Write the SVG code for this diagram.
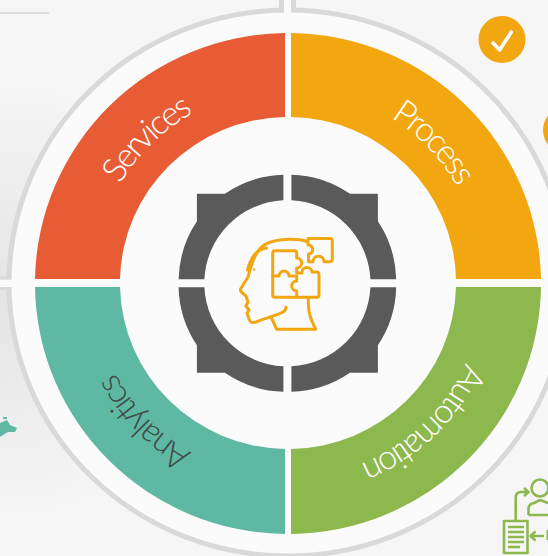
<svg xmlns="http://www.w3.org/2000/svg" width="548" height="556" viewBox="0 0 548 556">
<style>
.lbl{font-family:"Lato","Liberation Sans",sans-serif;font-weight:300;font-size:34px;letter-spacing:-2.4px;}
.ring{fill:none;stroke:#d9d9d9;stroke-width:5;}
.ic{fill:none;stroke:#f2a60f;stroke-width:3;stroke-linecap:round;stroke-linejoin:round;}
.gi{fill:none;stroke:#8db84e;stroke-width:2.6;stroke-linejoin:round;}
</style>
<defs>
<radialGradient id="bg" gradientUnits="userSpaceOnUse" cx="0" cy="300" r="220">
<stop offset="0" stop-color="#e4e4e4"/><stop offset="1" stop-color="#f6f6f6"/>
</radialGradient>
<path id="tp" d="M94,280.5 A194,192 0 0 1 482,280.5 L482,286 A194,192 0 0 1 94,286 Z"/>
<path id="gq" d="M-4,-108.5 A109,109 0 0 0 -62.5,-89.5 H-90.5 V-62 A109,109 0 0 0 -108.8,-4 H-83 A83,83 0 0 1 -4,-83 Z" fill="#5a5a5a"/>
</defs>
<rect width="548" height="556" fill="url(#bg)"/>
<rect x="0" y="12" width="49" height="2" fill="#dcdcdc"/>
<polygon points="0,423 7,420 10,425 17,428 15,432 8,432 3,435 0,437" fill="#5eb8a4"/>
<polygon points="3,417 7,417 7,419 3,419" fill="#5eb8a4"/>
<g id="rings">
<ellipse cx="288" cy="283" rx="277" ry="271" fill="#fbfbfb"/>
<ellipse class="ring" cx="288" cy="283" rx="279" ry="273"/>
<rect x="284" y="0" width="7" height="16" fill="#fbfbfb"/>
<rect x="0" y="279.5" width="14" height="7.5" fill="#fbfbfb"/>
<rect x="279" y="0" width="5" height="11" fill="#d9d9d9"/>
<rect x="291" y="0" width="5" height="11" fill="#d9d9d9"/>
<rect x="0" y="276.5" width="11" height="3" fill="#d9d9d9"/>
<rect x="0" y="287" width="11" height="3" fill="#d9d9d9"/>
</g>
<g id="segment-services"><path d="M285,33 A253,250.5 0 0 0 35,279 H120 A168,166 0 0 1 285,117 Z" fill="#e75c35"/><text class="lbl" fill="#fff"><textPath href="#tp" startOffset="12.4%" text-anchor="middle">Services</textPath></text></g>
<g id="segment-process"><path d="M291,33 A253,250.5 0 0 1 541,279 H456 A168,166 0 0 0 291,117 Z" fill="#f2a60f"/><text class="lbl" fill="#fff"><textPath href="#tp" startOffset="37.5%" text-anchor="middle">Process</textPath></text></g>
<g id="segment-automation"><path d="M291,534 A253,250.5 0 0 0 541,287 H456 A168,166 0 0 1 291,449 Z" fill="#8db84e"/><text class="lbl" fill="#fff"><textPath href="#tp" startOffset="62.5%" text-anchor="middle">Automation</textPath></text></g>
<g id="segment-analytics"><path d="M285,534 A253,250.5 0 0 1 35,287 H120 A168,166 0 0 0 285,449 Z" fill="#5eb8a4"/><text class="lbl" fill="#3f4a48"><textPath href="#tp" startOffset="87.5%" text-anchor="middle">Analytics</textPath></text></g>
<g id="hub">
<use href="#gq" transform="translate(287.4,283.3)"/>
<use href="#gq" transform="translate(287.4,283.3) scale(-1,1)"/>
<use href="#gq" transform="translate(287.4,283.3) scale(1,-1)"/>
<use href="#gq" transform="translate(287.4,283.3) scale(-1,-1)"/>
</g>
<g id="head-icon" class="ic">
<path d="M307,241.5 C297,238 280,238.5 268,243 C256,248 252,262 248,277 L240.5,289 C240,291 241,292 246,296 L248,302 L246,306 L249,310 L247,313 L249,319 C250,323 253,323 256,322 C266,318 278,315 283,312 C285,311 286,309 286,307"/>
<path d="M247.5,270 C250,261 254,250 266.5,248"/>
<path d="M271.5,318 L276.7,329.3 H315.7 C310,318 308,312 308.3,298"/>
<path d="M275,250.7 H294.5 Q296.7,250.7 296.7,253 V258 A5,5 0 0 1 296.7,268 V273 H302 A5,5 0 0 1 312,272 H317 Q319,272.5 319,275 V295 Q319,297.3 317,297.3 H275 Q272.7,297.3 272.7,295 V253 Q272.7,250.7 275,250.7 Z"/>
<path d="M272.7,276 H279 A5,5 0 0 1 289,276 H296.7 V281 A5,5 0 0 0 296.7,291 V297"/>
<path d="M308,238.5 H330 Q332.3,238.5 332.3,241 V259.5 Q332.3,261.7 330,261.7 H324 A5.5,5.5 0 0 0 313,261.7 H308.5 V254 A4.5,4.5 0 0 0 308,245 Z"/>
</g>
<circle cx="254" cy="269.5" r="1.2" fill="#f2a60f"/>
<g id="check"><circle cx="502" cy="39.5" r="23.5" fill="#f2a60f"/><path d="M493,43 L499.7,50 L511.3,32" fill="none" stroke="#fff" stroke-width="3.6" stroke-linecap="round" stroke-linejoin="round"/></g>
<circle cx="566.5" cy="130" r="23.5" fill="#f2a60f"/>
<g id="person-icon">
<rect class="gi" x="504" y="521" width="23.5" height="32"/>
<path class="gi" d="M508,527 H524 M508,532 H524 M508,537 H524 M508,542 H524 M508,547 H520" stroke-width="1.8"/>
<path class="gi" d="M515.7,520 V498 Q515.7,492 521,492 H527 M524,488 L528.5,492 L524,496"/>
<circle class="gi" cx="540" cy="488" r="8.5"/>
<path class="gi" d="M528.5,515 V508 Q529,504 534,503 L540,500 L548,503 M528.5,515 H548"/>
<path class="gi" d="M531,536 H544 M535.5,531.5 L530.5,536 L535.5,540.5"/>
<rect x="546.5" y="530" width="2" height="10" fill="#8db84e"/>
</g>
</svg>
